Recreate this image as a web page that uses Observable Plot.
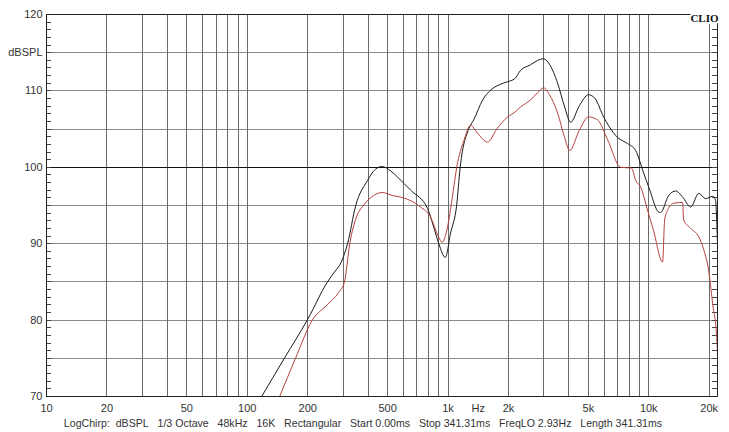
<!DOCTYPE html>
<html>
<head>
<meta charset="utf-8">
<script src="https://cdn.jsdelivr.net/npm/d3@7"></script>
<script src="https://cdn.jsdelivr.net/npm/@observablehq/plot@0.6"></script>
<style>
  html, body { margin: 0; padding: 0; background: #fff; }
  #chart svg { display: block; }
</style>
</head>
<body>
<div id="chart"></div>
<script>
// ---- data ----
const blackFreq = [118,153,200,251,272,293,316,347,398,426,467,520,561,652,791,848,900,970,1030,1104,1150,1268,1343,1487,1629,1800,1982,2150,2301,2570,2800,2992,3200,3516,3800,4083,4500,5012,5400,5957,6680,7000,7850,8600,9441,10000,11300,11460,12560,13620,14750,16180,17740,19190,20800,21500,22000];
const blackDb   = [70,75,80.1,85,86.3,87.5,90,95,98.3,99.5,100.1,99.5,98.7,97,94.6,92.2,90,88.2,91.4,95,100,105,106.2,108.8,110.1,110.8,111.2,111.6,112.7,113.4,114,114.2,113.5,111,108,105.9,108,109.5,109,106.6,104.5,103.9,103.1,102.2,99.2,97.4,94.1,94.1,96.3,96.9,96.1,94.8,96.6,95.9,96.2,95.7,90];

const redFreq = [145,174,211,250,285,305,324,350,379,411,470,530,601,730,818,897,935,995,1050,1105,1200,1297,1400,1574,1750,1982,2150,2301,2570,2800,2992,3200,3516,3800,4036,4500,5012,5560,6240,7244,8204,8600,9120,9860,10570,11720,12000,12420,13310,14750,14920,16180,17740,18800,19870,20800,21800,22000];
const redDb   = [70,75,80,82,83.6,85,90,93.5,95,96,96.7,96.3,96,94.8,93.5,90.9,90.2,92.2,96,100,103.5,105.5,104.5,103.3,105,106.6,107.2,107.9,108.8,109.8,110.4,109.5,107.1,104,102.2,104.8,106.6,106.2,103.6,100,99.9,98.3,97.4,94.4,91.7,87.6,93.1,94.4,95.3,95.4,93.1,92,90.9,89.2,86.5,82.2,77.7,75.8];

const xGridFreqs = [20,30,40,50,60,70,80,90,100,200,300,400,500,600,700,800,900,1000,2000,3000,4000,5000,6000,7000,8000,9000,10000,20000];
const yGridLevels = [75,80,85,90,95,105,110,115];
const yRefLevel = [100];
const yMinorTicks = [71,72,73,74,75,76,77,78,79,80,81,82,83,84,85,86,87,88,89,90,91,92,93,94,95,96,97,98,99,100,101,102,103,104,105,106,107,108,109,110,111,112,113,114,115,116,117,118,119];

const xTickValues = [10,20,50,100,200,500,1000,1414,2000,5000,10000,20000];
const xTickLabels = ["10","20","50","100","200","500","1k","Hz","2k","5k","10k","20k"];
const yTickValues = [70,80,90,100,110,115,120];
const yTickLabels = ["70","80","90","100","110","dBSPL","120"];

const captionText = "LogChirp:  dBSPL   1/3 Octave   48kHz   16K   Rectangular   Start 0.00ms   Stop 341.31ms   FreqLO 2.93Hz   Length 341.31ms";
const brandText = "CLIO";

// ---- build tables ----
const black = blackFreq.map((f, i) => ({f, db: blackDb[i]}));
const red = redFreq.map((f, i) => ({f, db: redDb[i]}));
const xTicks = xTickValues.map((v, i) => ({v, label: xTickLabels[i]}));
const yTicks = yTickValues.map((v, i) => ({v, label: yTickLabels[i]}));
const nb = s => s.replace(/ /g, "\u00a0");

const font = "Liberation Sans, Arial, sans-serif";

const chart = Plot.plot({
  width: 729,
  height: 432,
  marginLeft: 46,
  marginRight: 12,
  marginTop: 14,
  marginBottom: 36,
  style: {fontFamily: font, fontSize: "11px", color: "#333", background: "#fff"},
  x: {type: "log", domain: [10, 22000], axis: null},
  y: {domain: [70, 120], axis: null},
  marks: [
    Plot.ruleY(yGridLevels, {stroke: "#8a8a8a", strokeWidth: 1, shapeRendering: "crispEdges"}),
    Plot.ruleX(xGridFreqs, {stroke: "#6a6a6a", strokeWidth: 1, shapeRendering: "crispEdges"}),
    Plot.ruleY(yRefLevel, {stroke: "#111", strokeWidth: 1.2, shapeRendering: "crispEdges"}),
    Plot.tickY(yMinorTicks, {y: d => d, insetRight: 666, stroke: "#444", shapeRendering: "crispEdges"}),
    Plot.tickY(yMinorTicks, {y: d => d, insetLeft: 666, stroke: "#444", shapeRendering: "crispEdges"}),
    Plot.line(black, {x: "f", y: "db", stroke: "#1a1a1a", strokeWidth: 1, curve: "monotone-x", clip: true}),
    Plot.line(red, {x: "f", y: "db", stroke: "#b8413c", strokeWidth: 1, curve: "monotone-x", clip: true}),
    Plot.frame({stroke: "#222", shapeRendering: "crispEdges"}),
    Plot.text(xTicks, {x: "v", text: "label", frameAnchor: "bottom", lineAnchor: "middle", dy: 12, fill: "#333", fontSize: 11}),
    Plot.text(yTicks, {y: "v", text: "label", frameAnchor: "left", textAnchor: "end", dx: -4, fill: "#333", fontSize: 11}),
    Plot.text([brandText], {frameAnchor: "top-right", text: d => d, textAnchor: "end", lineAnchor: "middle", dy: 4, dx: 1,
      fontFamily: "Liberation Serif, DejaVu Serif, serif", fontWeight: "bold", fontSize: 11, fill: "#111",
      stroke: "#fff", strokeWidth: 4, paintOrder: "stroke"}),
    Plot.text([captionText], {frameAnchor: "bottom", text: d => nb(d), lineAnchor: "middle", dy: 27, dx: -19,
      fontSize: 10.6, fill: "#333"})
  ]
});
document.getElementById("chart").appendChild(chart);
</script>
</body>
</html>
